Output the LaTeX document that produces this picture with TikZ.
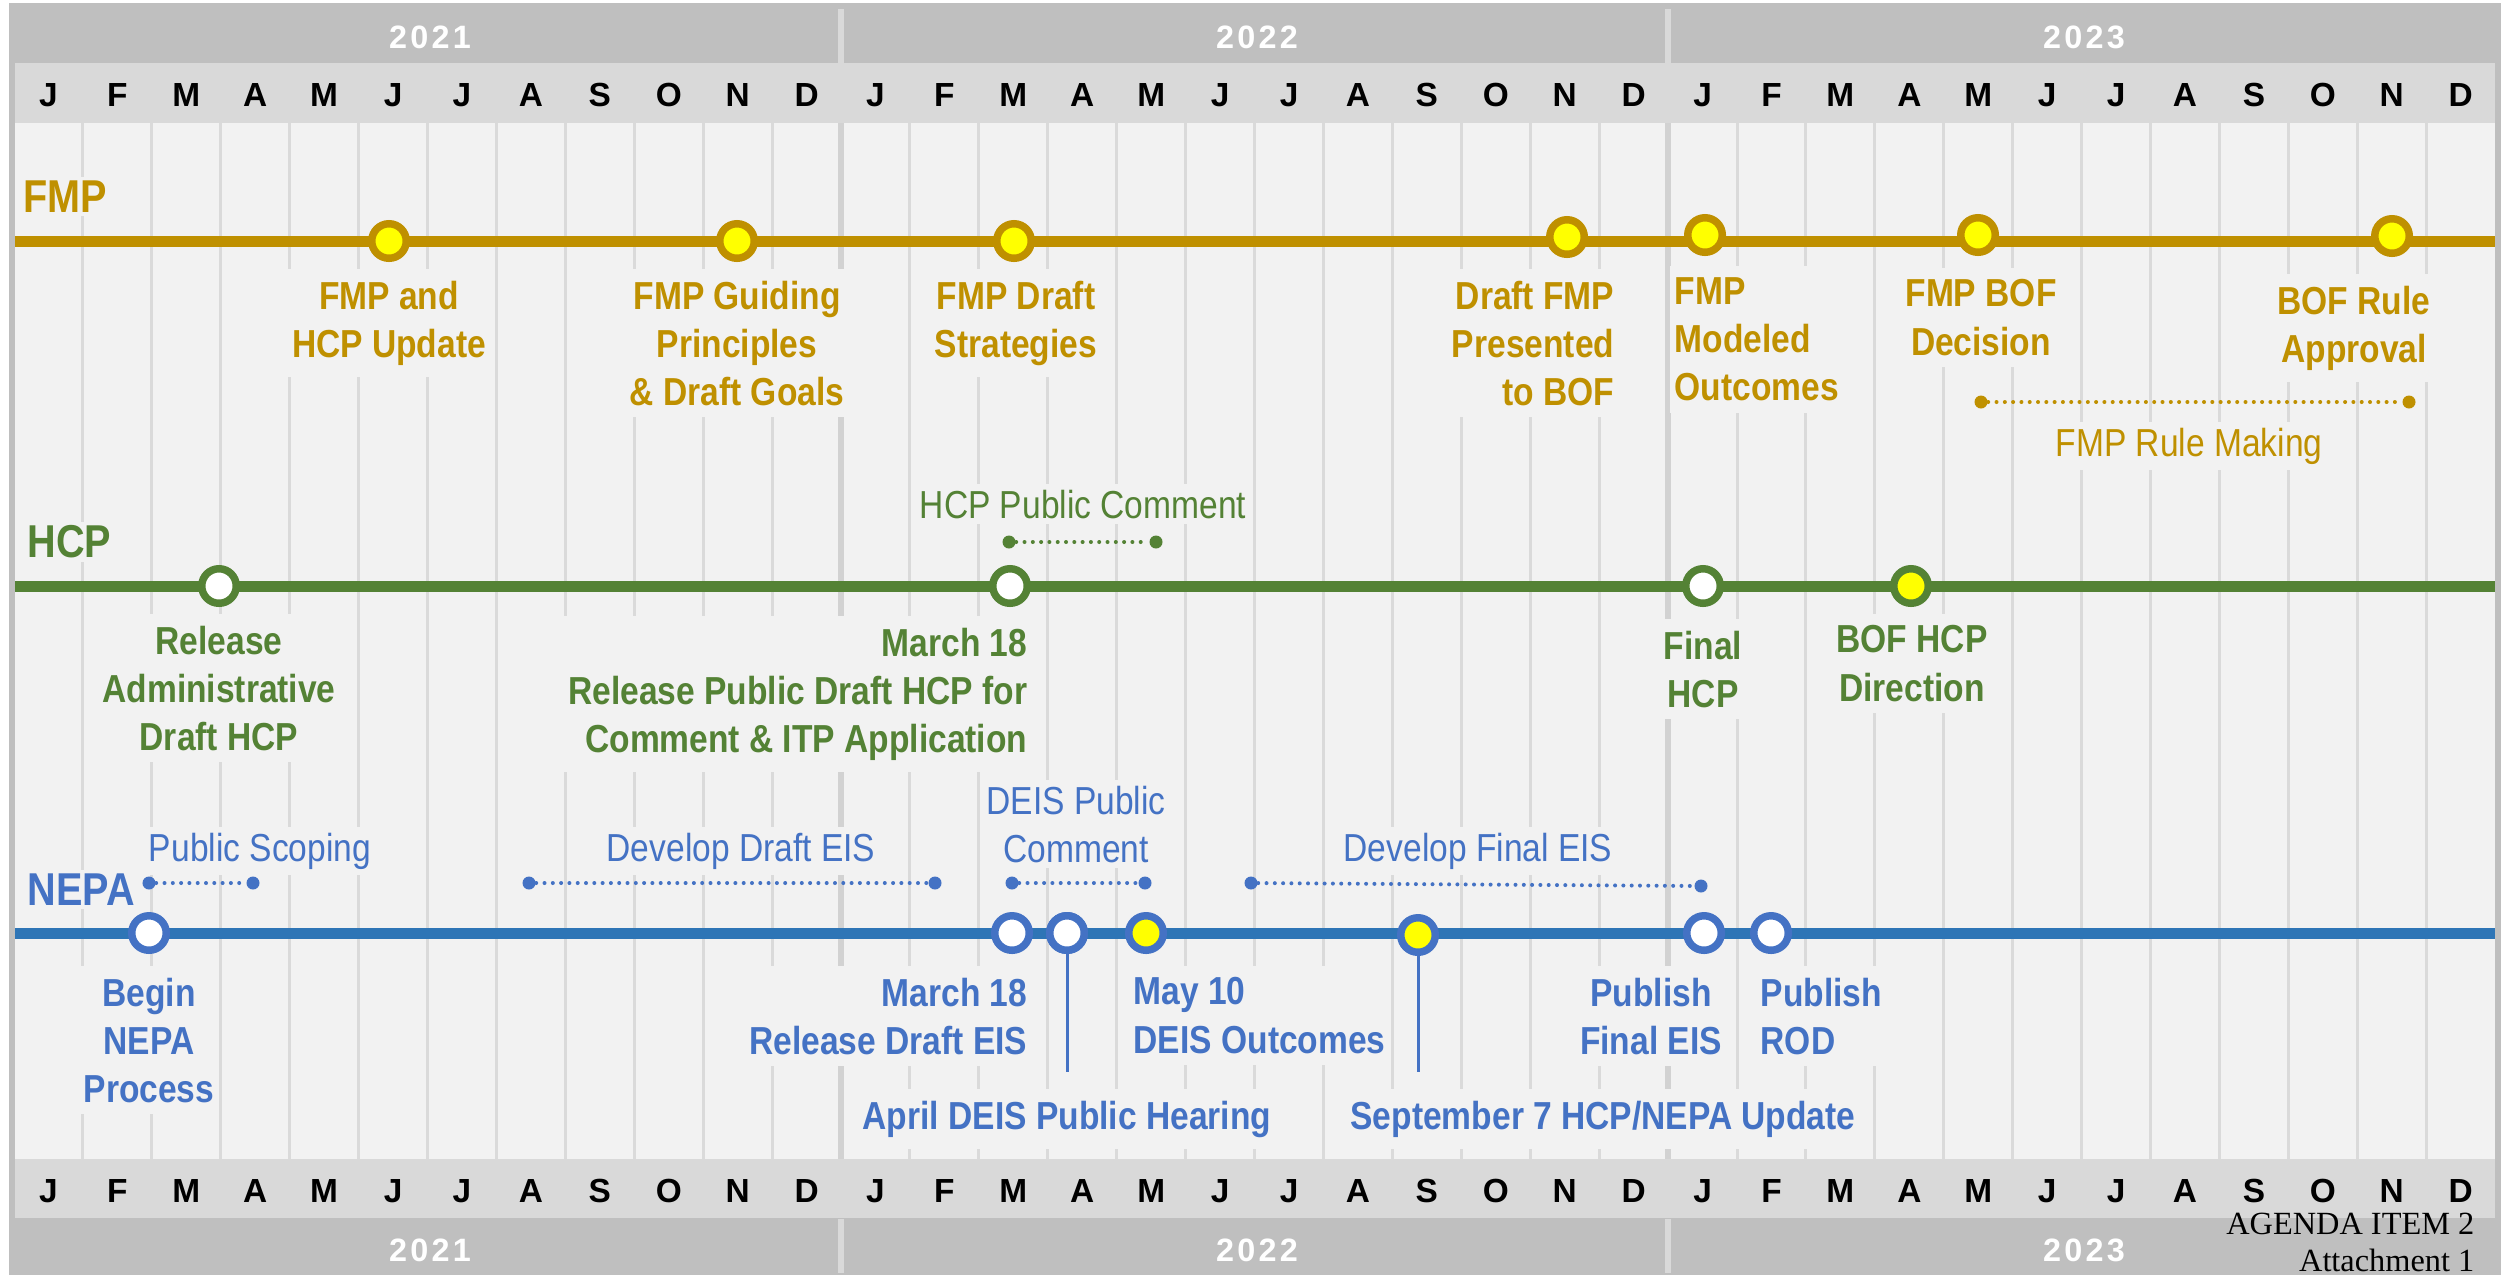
\documentclass[tikz,border=0pt]{standalone}
\usepackage{fontspec}
\setmainfont{Liberation Sans}
\newfontfamily\nar[FakeStretch=0.86]{Liberation Sans}
\newfontfamily\yrf[LetterSpace=10]{Liberation Sans}
\newfontfamily\tms{Liberation Serif}
\definecolor{gold}{HTML}{BF9000}
\definecolor{hgreen}{HTML}{548235}
\definecolor{nline}{HTML}{2E75B6}
\definecolor{nblue}{HTML}{4472C4}
\definecolor{panel}{HTML}{F2F2F2}
\definecolor{mband}{HTML}{D9D9D9}
\definecolor{yband}{HTML}{BFBFBF}
\definecolor{gridc}{HTML}{DADADA}
\definecolor{ygrid}{HTML}{D2D2D2}
\definecolor{ylw}{HTML}{FFFF00}
\tikzset{
 lbl/.style={font=\nar\bfseries\fontsize{11.1}{13.66}\selectfont, fill=panel, inner xsep=0.05cm, inner ysep=0.12cm},
 rng/.style={font=\nar\fontsize{11.1}{13.66}\selectfont, fill=panel, inner xsep=0.05cm, inner ysep=0.06cm},
 lane/.style={font=\nar\bfseries\fontsize{13.1}{15}\selectfont, fill=panel, inner sep=0.04cm, anchor=north west},
 ms/.style={circle, minimum size=0.345cm, inner sep=0pt, line width=2.13pt},
 tl/.style={line width=3.13pt},
 enddot/.style={circle, minimum size=0.13cm, inner sep=0pt},
 dotl/.style={line width=1.14pt, line cap=round, dash pattern=on 0pt off 2.36pt},
 conn/.style={line width=0.85pt, draw=nblue},
 mon/.style={anchor=base, font=\bfseries\fontsize{9.5}{11}\selectfont, inner sep=0pt},
 yr/.style={anchor=base, font=\yrf\bfseries\fontsize{9.2}{11}\selectfont, text=white, inner sep=0pt},
 gridl/.style={line width=0.85pt, draw=gridc},
}
\begin{document}
\begin{tikzpicture}[x=0.01cm,y=-0.01cm]
\fill[white] (0,0) rectangle (2504,1275);
\useasboundingbox (0,0) rectangle (2504,1275);
\fill[yband] (9,3) rectangle (2501,1275);
\fill[mband] (15,63) rectangle (2495,123);
\fill[mband] (15,1159) rectangle (2495,1218);
\fill[panel] (15,123) rectangle (2495,1159);
% grid
\foreach \k in {1,...,35} {\draw[gridl] ({14+\k*68.92},123) -- ({14+\k*68.92},1159);}
\foreach \k in {12,24} {
 \draw[line width=1.5pt, draw=ygrid] ({14+\k*68.92},123) -- ({14+\k*68.92},1159);
 \draw[line width=1.5pt, draw=mband] ({14+\k*68.92},9) -- ({14+\k*68.92},63);
 \draw[line width=1.5pt, draw=mband] ({14+\k*68.92},1219) -- ({14+\k*68.92},1273);
}
% months and years
\foreach \m [count=\i from 0] in {J,F,M,A,M,J,J,A,S,O,N,D,J,F,M,A,M,J,J,A,S,O,N,D,J,F,M,A,M,J,J,A,S,O,N,D} {
 \node[mon] (mt\i) at ({14+(\i+0.5)*68.92},106) {\m};
 \node[mon] (mb\i) at ({14+(\i+0.5)*68.92},1202) {\m};
}
\node[yr] (yt1) at (430,48) {2021};
\node[yr] (yt2) at (1257,48) {2022};
\node[yr] (yt3) at (2084,48) {2023};
\node[yr] (yb1) at (430,1261) {2021};
\node[yr] (yb2) at (1257,1261) {2022};
\node[yr] (yb3) at (2084,1261) {2023};
% lane labels
\node[lane, text=gold] (lf) at (19,176) {FMP};
\node[lane, text=hgreen] (lh) at (23,521) {HCP};
\node[lane, text=nblue] (ln) at (23,869) {NEPA};
% FMP labels
\node[lbl, text=gold, anchor=north, align=center] (fl1) at (389,268) {FMP and\\HCP Update};
\node[lbl, text=gold, anchor=north, align=center] (fl2) at (737,268) {FMP Guiding\\Principles\\\& Draft Goals};
\node[lbl, text=gold, anchor=north, align=center] (fl3) at (1016,268) {FMP Draft\\Strategies};
\node[lbl, text=gold, anchor=north east, align=right] (fl4) at (1620,268) {Draft FMP\\Presented\\to BOF};
\node[lbl, text=gold, anchor=north west, align=left] (fl5) at (1669,265) {FMP\\Modeled\\Outcomes};
\node[lbl, text=gold, anchor=north, align=center] (fl6) at (1981,267) {FMP BOF\\Decision};
\node[lbl, text=gold, anchor=north, align=center] (fl7) at (2354,273) {BOF Rule\\Approval};
\node[rng, text=gold, anchor=north] (fr) at (2189,421) {FMP Rule Making};
% HCP labels
\node[rng, text=hgreen, anchor=north] (hr) at (1083,483) {HCP Public Comment};
\node[lbl, text=hgreen, anchor=north, align=center] (hl1) at (219,613) {Release\\Administrative\\Draft HCP};
\node[lbl, text=hgreen, anchor=north east, align=right] (hl2) at (1033,615) {March 18\\Release Public Draft HCP for\\Comment \& ITP Application};
\node[lbl, text=hgreen, anchor=north, align=center] (hl3) at (1703,618) {Final\\HCP};
\node[lbl, text=hgreen, anchor=north, align=center] (hl4) at (1912,613) {BOF HCP\\Direction};
% NEPA range labels
\node[rng, text=nblue, anchor=north] (nr1) at (260,826) {Public Scoping};
\node[rng, text=nblue, anchor=north] (nr2) at (741,826) {Develop Draft EIS};
\node[rng, text=nblue, anchor=north, align=center] (nr3) at (1076,779) {DEIS Public\\Comment};
\node[rng, text=nblue, anchor=north] (nr4) at (1478,826) {Develop Final EIS};
% NEPA labels
\node[lbl, text=nblue, anchor=north, align=center] (nl1) at (149,965) {Begin\\NEPA\\Process};
\node[lbl, text=nblue, anchor=north east, align=right] (nl2) at (1033,965) {March 18\\Release Draft EIS};
\node[lbl, text=nblue, anchor=north west, align=left] (nl3) at (1128,965) {May 10\\DEIS Outcomes};
\node[lbl, text=nblue, anchor=north, align=center] (nl4) at (1651,965) {Publish\\Final EIS};
\node[lbl, text=nblue, anchor=north west, align=left] (nl5) at (1755,965) {Publish\\ROD};
\node[lbl, text=nblue, anchor=north] (nl6) at (1067,1088) {April DEIS Public Hearing};
\node[lbl, text=nblue, anchor=north] (nl7) at (1603,1088) {September 7 HCP/NEPA Update};
% timelines
\coordinate (fL) at (15,241); \coordinate (fR) at (2495,241);
\coordinate (hL) at (15,586); \coordinate (hR) at (2495,586);
\coordinate (nL) at (15,933); \coordinate (nR) at (2495,933);
\draw[tl, gold] (fL) -- (fR);
\draw[tl, hgreen] (hL) -- (hR);
\draw[tl, nline] (nL) -- (nR);
% connectors for hearing and update
\node[ms, draw=nblue, fill=white] (n3) at (1067,933) {};
\node[ms, draw=nblue, fill=ylw] (n5) at (1418,935) {};
\coordinate (n3e) at (1067,1072);
\coordinate (n5e) at (1418,1072);
\draw[conn] (n3) -- (n3e);
\draw[conn] (n5) -- (n5e);
% FMP milestones
\node[ms, draw=gold, fill=ylw] (f1) at (389,241) {};
\node[ms, draw=gold, fill=ylw] (f2) at (737,241) {};
\node[ms, draw=gold, fill=ylw] (f3) at (1014,241) {};
\node[ms, draw=gold, fill=ylw] (f4) at (1567,237) {};
\node[ms, draw=gold, fill=ylw] (f5) at (1705,235) {};
\node[ms, draw=gold, fill=ylw] (f6) at (1978,235) {};
\node[ms, draw=gold, fill=ylw] (f7) at (2392,236) {};
% HCP milestones
\node[ms, draw=hgreen, fill=white] (h1) at (219,586) {};
\node[ms, draw=hgreen, fill=white] (h2) at (1010,586) {};
\node[ms, draw=hgreen, fill=white] (h3) at (1703,586) {};
\node[ms, draw=hgreen, fill=ylw] (h4) at (1911,586) {};
% NEPA milestones
\node[ms, draw=nblue, fill=white] (n1) at (149,933) {};
\node[ms, draw=nblue, fill=white] (n2) at (1012,933) {};
\node[ms, draw=nblue, fill=white] (n3b) at (1067,933) {};
\node[ms, draw=nblue, fill=ylw] (n4) at (1146,933) {};
\node[ms, draw=nblue, fill=white] (n6) at (1704,933) {};
\node[ms, draw=nblue, fill=white] (n7) at (1771,933) {};
% range bars
\node[enddot, fill=gold] (fa) at (1981,402) {};
\node[enddot, fill=gold] (fb) at (2409,402) {};
\draw[dotl, gold] (fa) -- (fb);
\node[enddot, fill=hgreen] (ha) at (1009,542) {};
\node[enddot, fill=hgreen] (hb) at (1156,542) {};
\draw[dotl, hgreen] (ha) -- (hb);
\node[enddot, fill=nblue] (pa) at (149,883) {};
\node[enddot, fill=nblue] (pb) at (253,883) {};
\draw[dotl, nblue] (pa) -- (pb);
\node[enddot, fill=nblue] (da) at (529,883) {};
\node[enddot, fill=nblue] (db) at (935,883) {};
\draw[dotl, nblue] (da) -- (db);
\node[enddot, fill=nblue] (ca) at (1012,883) {};
\node[enddot, fill=nblue] (cb) at (1145,883) {};
\draw[dotl, nblue] (ca) -- (cb);
\node[enddot, fill=nblue] (ea) at (1251,883) {};
\node[enddot, fill=nblue] (eb) at (1701,886) {};
\draw[dotl, nblue] (ea) -- (eb);
% agenda note
\node[anchor=north east, align=right, inner sep=0pt, font=\tms\fontsize{9.2}{10.5}\selectfont] (ag) at (2475,1212) {AGENDA ITEM 2\\Attachment 1};
\end{tikzpicture}
\end{document}
